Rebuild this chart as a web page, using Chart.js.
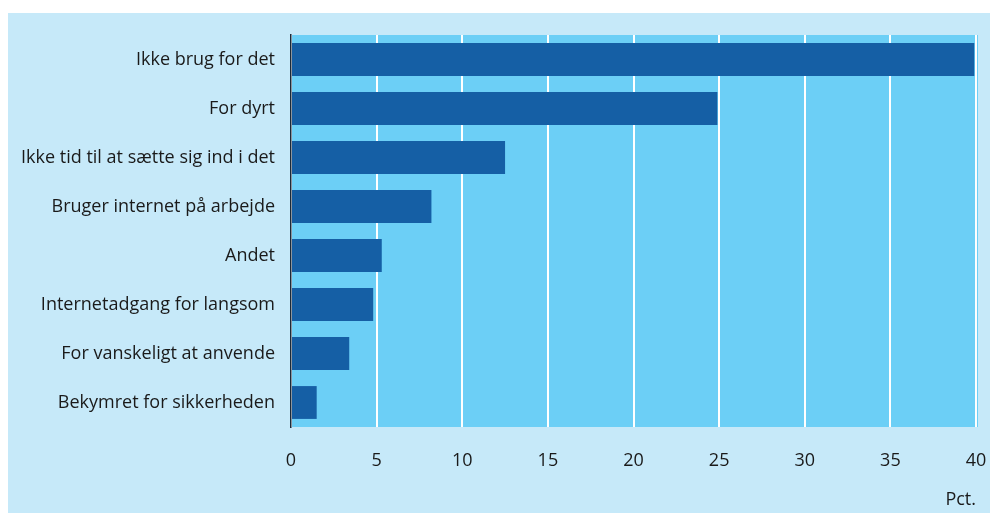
<!DOCTYPE html>
<html>
<head>
<meta charset="utf-8">
<script src="https://cdn.jsdelivr.net/npm/chart.js@4.4.1/dist/chart.umd.min.js"></script>
<style>
  html, body { margin: 0; padding: 0; background: #ffffff; }
  #wrap { position: absolute; left: 8px; top: 13px; width: 982px; height: 500px; background: #c6e9f9; }
  #wrap canvas { display: block; }
</style>
</head>
<body>
<div id="wrap"><canvas id="reasons" width="982" height="500"></canvas></div>
<script>
// Årsager til ikke at have internet (pct.)
const categories = [
    "Ikke brug for det",
    "For dyrt",
    "Ikke tid til at sætte sig ind i det",
    "Bruger internet på arbejde",
    "Andet",
    "Internetadgang for langsom",
    "For vanskeligt at anvende",
    "Bekymret for sikkerheden"
];
const values = [39.9, 24.9, 12.5, 8.2, 5.3, 4.8, 3.4, 1.5];
const xTicks = [0, 5, 10, 15, 20, 25, 30, 35, 40];

const fontFamily = "'Open Sans', 'Liberation Sans', sans-serif";
const fontSize = 18;

// fills the plot area in the stronger blue before the grid is drawn
const plotBackground = {
    id: 'plotBackground',
    beforeDraw(chart) {
        const a = chart.chartArea;
        const ctx = chart.ctx;
        ctx.save();
        ctx.fillStyle = '#6ccff6';
        ctx.fillRect(a.left, a.top, a.right - a.left + 2, a.bottom - a.top);
        ctx.restore();
    }
};

const ctx = document.getElementById("reasons").getContext('2d');

const chart = new Chart(ctx, {
    type: 'bar',
    plugins: [plotBackground],
    data: {
        labels: categories,
        datasets: [{
            data: values,
            backgroundColor: '#155fa5',
            borderWidth: 0,
            barPercentage: 0.67,
            categoryPercentage: 1.0
        }]
    },
    options: {
        indexAxis: 'y',
        responsive: false,
        animation: false,
        layout: {
            padding: { left: 0, right: 14, top: 22, bottom: 0 }
        },
        plugins: {
            legend: { display: false },
            tooltip: { enabled: false }
        },
        scales: {
            x: {
                min: 0,
                max: 40,
                afterBuildTicks: (scale) => {
                    scale.ticks = xTicks.map(v => ({ value: v }));
                },
                afterFit: (scale) => {
                    scale.height = 86;
                    scale.paddingLeft = 0;
                    scale.paddingRight = 0;
                },
                grid: {
                    color: '#ffffff',
                    lineWidth: 2,
                    drawTicks: false
                },
                border: { display: false },
                ticks: {
                    padding: 23,
                    color: '#1a1a1a',
                    font: { family: fontFamily, size: fontSize }
                },
                title: {
                    display: true,
                    text: 'Pct.',
                    align: 'end',
                    color: '#1a1a1a',
                    font: { family: fontFamily, size: fontSize },
                    padding: { top: 0, bottom: 2 }
                }
            },
            y: {
                afterFit: (scale) => {
                    scale.width = 283;
                    scale.paddingTop = 0;
                    scale.paddingBottom = 0;
                },
                grid: { display: false, drawTicks: false },
                border: { display: true, color: '#1a2a3a', width: 1.5 },
                ticks: {
                    padding: 16,
                    color: '#1a1a1a',
                    font: { family: fontFamily, size: fontSize }
                }
            }
        }
    }
});
</script>
</body>
</html>
